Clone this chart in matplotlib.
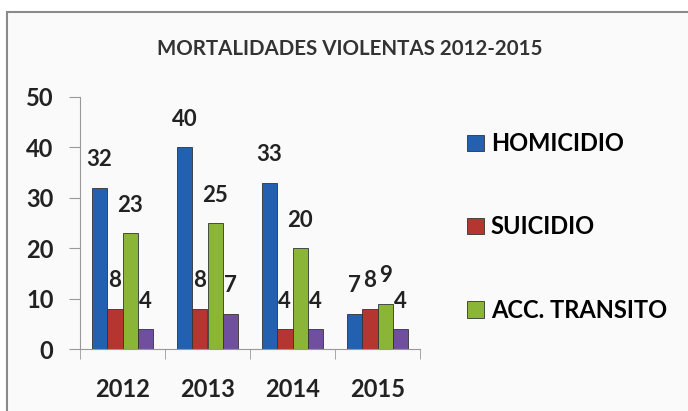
import matplotlib
matplotlib.use('Agg')
import matplotlib.pyplot as plt
import numpy as np
from matplotlib.patches import Rectangle

years = ['2012', '2013', '2014', '2015']
homicidio = [32, 40, 33, 7]
suicidio = [8, 8, 4, 8]
transito = [23, 25, 20, 9]
otros = [4, 7, 4, 4]
series_names = ['HOMICIDIO', 'SUICIDIO', 'ACC. TRANSITO', None]
colors = ['#2460B0', '#B53631', '#8BB536', '#70509E']

plt.rcParams['font.family'] = ['Lato', 'DejaVu Sans']

fig = plt.figure(figsize=(6.88, 4.11), dpi=100)
fig.patch.set_facecolor('white')
# chart frame
fig.patches.append(Rectangle((7 / 688, -0.05), 1.0, (411 - 12) / 411 + 0.05,
                             transform=fig.transFigure, facecolor='#FAFAFA',
                             edgecolor='#8A8A8A', linewidth=1.5, zorder=-10))

ax = fig.add_axes([80 / 688, (411 - 349) / 411, 340 / 688, 252 / 411])
ax.set_facecolor('none')
ax.set_zorder(5)

x = np.arange(len(years))
w = 0.18
allvals = [homicidio, suicidio, transito, otros]
for i, (vals, c, name) in enumerate(zip(allvals, colors, series_names)):
    pos = x + (i - 1.5) * w
    bars = ax.bar(pos, vals, width=w, color=c, edgecolor='#333333',
                  linewidth=0.6, label=name if name else '_nolegend_')
    for p, v in zip(pos, vals):
        ax.annotate(str(v), (p, v), xytext=(0, 20), textcoords='offset points',
                    ha='center', va='center', fontsize=16, fontweight='bold',
                    color='#222222')

ax.set_xlim(-0.5, 3.5)
ax.set_ylim(0, 50)
ax.set_yticks(range(0, 51, 10))
ax.set_yticklabels([str(t) for t in range(0, 51, 10)], fontsize=17,
                   fontweight='bold', color='#222222')
ax.set_xticks(x)
ax.set_xticklabels(years, fontsize=17, fontweight='bold', color='#222222')
ax.tick_params(axis='x', length=0, pad=21)
ax.tick_params(axis='y', length=8, color='#999999', pad=11)
ax.set_xticks(np.arange(-0.5, 4.0, 1.0), minor=True)
ax.tick_params(axis='x', which='minor', length=7, direction='out', color='#999999')
for s in ['top', 'right']:
    ax.spines[s].set_visible(False)
ax.spines['left'].set_color('#999999')
ax.spines['bottom'].set_color('#999999')

fig.text(350 / 688, 1 - 49 / 411, 'MORTALIDADES VIOLENTAS 2012-2015',
         ha='center', va='center', fontsize=14.8, fontweight='bold', color='#333333')

leg = fig.legend(loc='upper left', bbox_to_anchor=(446 / 688, 1 - 111 / 411),
                 frameon=False, prop={'weight': 'bold', 'size': 17},
                 labelspacing=2.55, handlelength=0.7, handleheight=0.7,
                 handletextpad=0.3)

plt.savefig('out.png', dpi=100)
plt.close()
